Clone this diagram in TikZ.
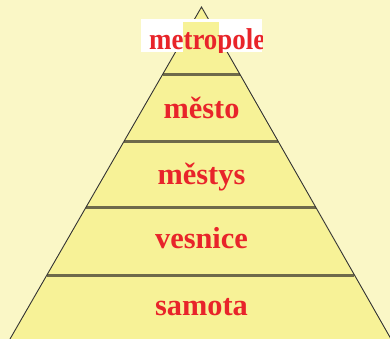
\documentclass[tikz,border=0pt]{standalone}
\usepackage{fontspec}
\setmainfont{Liberation Serif}
\usetikzlibrary{calc}
\definecolor{bgc}{HTML}{FAF7C6}
\definecolor{pyr}{HTML}{F7F297}
\definecolor{txt}{HTML}{E8242A}
\definecolor{sep}{HTML}{6E6A4A}
\tikzset{
  layerlabel/.style={font=\fontsize{30.5}{30.5}\selectfont\bfseries, text=txt, anchor=base, inner sep=0pt},
  sepline/.style={draw=sep, line width=3bp},
}
\begin{document}
\begin{tikzpicture}[x=1bp,y=-1bp]
\fill[bgc] (0,0) rectangle (390,339);
\useasboundingbox (0,0) rectangle (390,339);
\begin{scope}
\clip (0,0) rectangle (390,339);
\coordinate (A) at (201.5,7);
\coordinate (BL) at (10,339);
\coordinate (BR) at (391,339);
\fill[pyr] (A) -- (BL) -- (BR) -- cycle;
\foreach \y/\n in {74/a,141/b,208/c,275/d}{
  \pgfmathsetmacro{\t}{(\y-7)/332}
  \coordinate (L\n) at ($(A)!\t!(BL)$);
  \coordinate (R\n) at ($(A)!\t!(BR)$);
  \draw[sepline] (L\n) -- (R\n);
}
\draw[line width=0.9bp, draw=black!80] (BL) -- (A) -- (BR);
\end{scope}
% metropole label box
\fill[white] (141,19) rectangle (262,52);
\fill[pyr] (183,22) rectangle (219,52);
\begin{scope}
\clip (141,19) rectangle (262,52);
\node[font=\fontsize{27}{27}\selectfont\bfseries, text=txt, anchor=base west, inner sep=0pt, yscale=1.12] (metro) at (149,49) {metropole};
\end{scope}
\node[layerlabel] (mesto) at (201.5,118) {město};
\node[layerlabel] (mestys) at (201.5,184) {městys};
\node[layerlabel] (vesnice) at (201.5,248) {vesnice};
\node[layerlabel] (samota) at (201.5,315) {samota};
\end{tikzpicture}
\end{document}
